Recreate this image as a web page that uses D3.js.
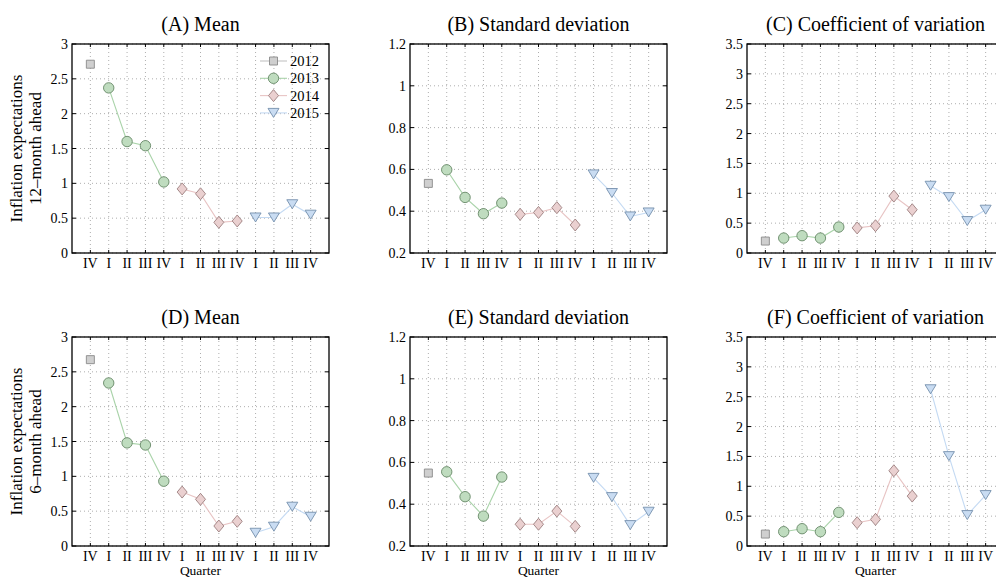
<!DOCTYPE html>
<html>
<head>
<meta charset="utf-8">
<script src="https://cdn.jsdelivr.net/npm/d3@7"></script>
<style>
  body { margin: 0; background: #fff; }
</style>
</head>
<body>
<div id="chart"></div>
<script>
// quarter labels and the year each point belongs to
const quarters = ["IV", "I", "II", "III", "IV", "I", "II", "III", "IV", "I", "II", "III", "IV"];
const yearOf = [2012, 2013, 2013, 2013, 2013, 2014, 2014, 2014, 2014, 2015, 2015, 2015, 2015];
const years = [2012, 2013, 2014, 2015];

// 12-month ahead
const mean12 = [2.71, 2.37, 1.60, 1.54, 1.02, 0.92, 0.85, 0.44, 0.46, 0.51, 0.51, 0.70, 0.55];
const sd12 = [0.533, 0.598, 0.466, 0.388, 0.439, 0.385, 0.394, 0.417, 0.334, 0.576, 0.487, 0.375, 0.394];
const cv12 = [0.20, 0.25, 0.29, 0.25, 0.435, 0.42, 0.457, 0.953, 0.725, 1.126, 0.936, 0.535, 0.725];
// 6-month ahead
const mean6 = [2.675, 2.34, 1.48, 1.45, 0.93, 0.774, 0.67, 0.287, 0.354, 0.19, 0.277, 0.564, 0.42];
const sd6 = [0.549, 0.555, 0.436, 0.343, 0.530, 0.304, 0.304, 0.367, 0.294, 0.526, 0.434, 0.300, 0.364];
const cv6 = [0.20, 0.24, 0.29, 0.24, 0.563, 0.39, 0.446, 1.26, 0.836, 2.625, 1.505, 0.518, 0.853];

const titles = ["(A) Mean", "(B) Standard deviation", "(C) Coefficient of variation",
                "(D) Mean", "(E) Standard deviation", "(F) Coefficient of variation"];
const yTicksMean = [0, 0.5, 1, 1.5, 2, 2.5, 3];
const yTicksSd = [0.2, 0.4, 0.6, 0.8, 1, 1.2];
const yTicksCv = [0, 0.5, 1, 1.5, 2, 2.5, 3, 3.5];

// styles per year
const style = {
    2012: {shape: "square", fill: "#cfcfcf", stroke: "#8a8a8a", line: "#c4c4c4"},
    2013: {shape: "circle", fill: "#bfdcbf", stroke: "#668866", line: "#a9d3a9"},
    2014: {shape: "diamond", fill: "#ead0d0", stroke: "#9c7f7f", line: "#e8c4c4"},
    2015: {shape: "triangle", fill: "#c9dcf2", stroke: "#7590ad", line: "#c4daf3"}
};

function markerPath(shape) {
    if (shape === "square") return "M-4,-4H4V4H-4Z";
    if (shape === "circle") return d3.symbol(d3.symbolCircle, 85)();
    if (shape === "diamond") return "M0,-6L5,0L0,6L-5,0Z";
    return "M-5.5,-4.5L5.5,-4.5L0,4.5Z";
}

const FONT = "'Liberation Serif', 'Times New Roman', 'DejaVu Serif', serif";
const W = 996, H = 577;
const svg = d3.select("#chart").append("svg")
    .attr("width", W).attr("height", H)
    .attr("font-family", FONT)
    .style("font-family", FONT);

const lefts = [72, 410, 747];
const tops = [44, 337];
const pw = 257, ph = 209;

const panels = [
    {values: mean12, ticks: yTicksMean, domain: [0, 3]},
    {values: sd12, ticks: yTicksSd, domain: [0.2, 1.2]},
    {values: cv12, ticks: yTicksCv, domain: [0, 3.5]},
    {values: mean6, ticks: yTicksMean, domain: [0, 3]},
    {values: sd6, ticks: yTicksSd, domain: [0.2, 1.2]},
    {values: cv6, ticks: yTicksCv, domain: [0, 3.5]}
];

panels.forEach((p, k) => {
    const row = Math.floor(k / 3), col = k % 3;
    const g = svg.append("g").attr("transform", `translate(${lefts[col]},${tops[row]})`);
    const x = d3.scaleLinear().domain([0, 14]).range([0, pw]);
    const y = d3.scaleLinear().domain(p.domain).range([ph, 0]);
    const idx = d3.range(quarters.length);

    // grid
    g.selectAll(".vg").data(idx).join("line")
        .attr("x1", i => x(i + 1)).attr("x2", i => x(i + 1))
        .attr("y1", 0).attr("y2", ph)
        .attr("stroke", "#999").attr("stroke-width", 0.8).attr("stroke-dasharray", "1,3");
    g.selectAll(".hg").data(p.ticks).join("line")
        .attr("x1", 0).attr("x2", pw)
        .attr("y1", d => y(d)).attr("y2", d => y(d))
        .attr("stroke", "#999").attr("stroke-width", 0.8).attr("stroke-dasharray", "1,3");

    // ticks inward on all sides
    g.selectAll(".ty").data(p.ticks).join("path")
        .attr("d", d => `M0,${y(d)}h4M${pw},${y(d)}h-4`)
        .attr("stroke", "#000").attr("stroke-width", 1);
    g.selectAll(".tx").data(idx).join("path")
        .attr("d", i => `M${x(i + 1)},${ph}v-3M${x(i + 1)},0v3`)
        .attr("stroke", "#000").attr("stroke-width", 1);

    // tick labels
    g.selectAll(".yl").data(p.ticks).join("text")
        .attr("x", -4).attr("y", d => y(d) + 5)
        .attr("text-anchor", "end").style("font-size", "14px")
        .text(d => String(+d.toFixed(1)));
    g.selectAll(".xl").data(idx).join("text")
        .attr("x", i => x(i + 1)).attr("y", ph + 15)
        .attr("text-anchor", "middle").style("font-size", "14px")
        .text(i => quarters[i]);

    // lines per year
    years.forEach(yr => {
        const pts = idx.filter(i => yearOf[i] === yr);
        g.append("path")
            .datum(pts)
            .attr("fill", "none").attr("stroke", style[yr].line).attr("stroke-width", 1.1)
            .attr("d", d3.line().x(i => x(i + 1)).y(i => y(p.values[i])));
    });

    // markers
    g.selectAll(".mk").data(idx).join("path")
        .attr("transform", i => `translate(${x(i + 1)},${y(p.values[i])})`)
        .attr("d", i => markerPath(style[yearOf[i]].shape))
        .attr("fill", i => style[yearOf[i]].fill)
        .attr("stroke", i => style[yearOf[i]].stroke)
        .attr("stroke-width", 0.9);

    // frame
    g.append("rect").attr("width", pw).attr("height", ph)
        .attr("fill", "none").attr("stroke", "#000").attr("stroke-width", 1.3);

    // title
    g.append("text").attr("x", pw / 2).attr("y", -13)
        .attr("text-anchor", "middle").style("font-size", "20px")
        .text(titles[k]);

    if (row === 1) {
        g.append("text").attr("x", pw / 2).attr("y", ph + 29)
            .attr("text-anchor", "middle").style("font-size", "13.5px")
            .text("Quarter");
    }

    if (col === 0) {
        const lab = g.append("text")
            .attr("transform", `translate(${-50},${ph / 2}) rotate(-90)`)
            .attr("text-anchor", "middle").style("font-size", "17px");
        lab.append("tspan").attr("x", 0).attr("y", 0).text("Inflation expectations");
        lab.append("tspan").attr("x", 0).attr("y", 19)
            .text(row === 0 ? "12–month ahead" : "6–month ahead");
    }

    // legend in panel A
    if (k === 0) {
        const lg = g.append("g").attr("transform", "translate(188,17)");
        years.forEach((yr, j) => {
            const r = lg.append("g").attr("transform", `translate(0,${j * 17.3})`);
            r.append("line").attr("x1", 0).attr("x2", 27).attr("y1", 0).attr("y2", 0)
                .attr("stroke", style[yr].line).attr("stroke-width", 1.1);
            r.append("path").attr("transform", "translate(13.5,0)")
                .attr("d", markerPath(style[yr].shape))
                .attr("fill", style[yr].fill).attr("stroke", style[yr].stroke).attr("stroke-width", 0.9);
            r.append("text").attr("x", 30).attr("y", 5).style("font-size", "14.5px").text(yr);
        });
    }
});
</script>
</body>
</html>
